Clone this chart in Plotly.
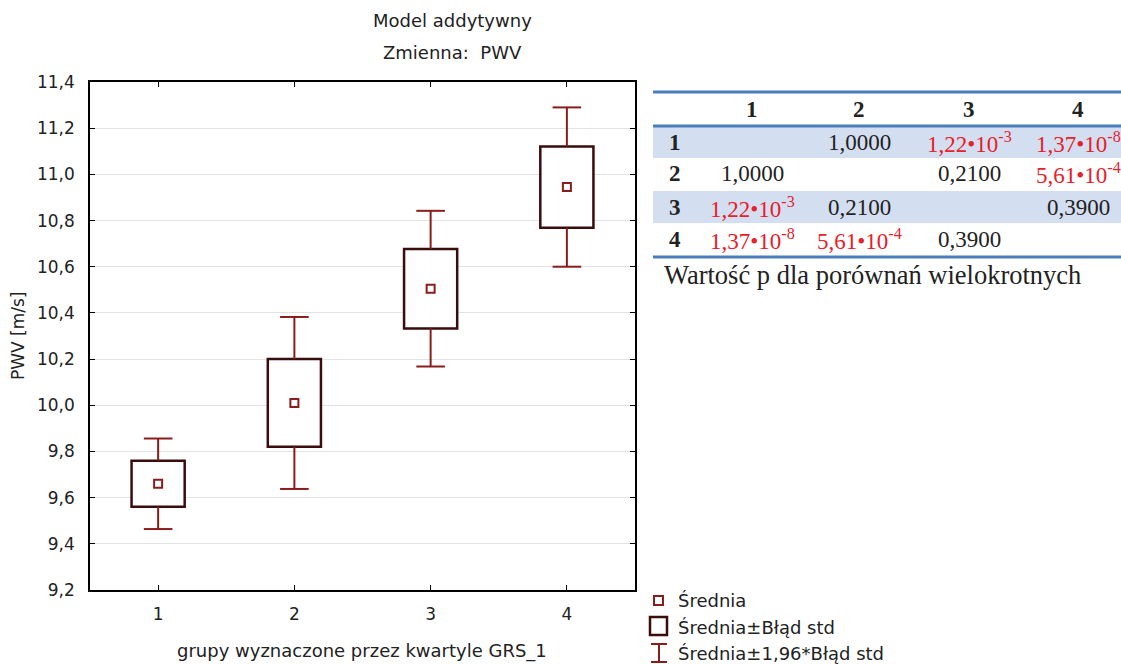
import plotly.graph_objects as go

# ---- data ----
groups = [1, 2, 3, 4]
means = [9.66, 10.01, 10.505, 10.945]
std_err = [0.10, 0.19, 0.172, 0.176]
ci_factor = 1.96

y_ticks = [9.2, 9.4, 9.6, 9.8, 10.0, 10.2, 10.4, 10.6, 10.8, 11.0, 11.2, 11.4]

table_cols = ["1", "2", "3", "4"]
table_rows = ["1", "2", "3", "4"]
p_values = [
    [None, 1.0, 1.22e-3, 1.37e-8],
    [1.0, None, 0.21, 5.61e-4],
    [1.22e-3, 0.21, None, 0.39],
    [1.37e-8, 5.61e-4, 0.39, None],
]
table_caption = "Wartość p dla porównań wielokrotnych"
legend_labels = ["Średnia", "Średnia±Błąd std", "Średnia±1,96*Błąd std"]

# ---- layout helpers ----
W, H = 1121, 664
def px(x):
    return x / W
def py(y):
    return 1 - y / H

BOX_C = "#3a0c0c"
WH_C = "#8b1c1c"
TXT = "#222222"
SANS = "DejaVu Sans"
SERIF = "Liberation Serif"

box_w = 0.39
cap_half = 0.105

fig = go.Figure()

# boxes: mean ± SE
fig.add_trace(go.Bar(
    x=groups,
    y=[2 * s for s in std_err],
    base=[m - s for m, s in zip(means, std_err)],
    width=box_w,
    marker=dict(color="white", line=dict(color=BOX_C, width=2.5)),
    showlegend=False, hoverinfo="skip",
))

# whiskers: mean ± 1.96 SE
wx, wy = [], []
for g, m, s in zip(groups, means, std_err):
    hi, lo = m + ci_factor * s, m - ci_factor * s
    wx += [g, g, None, g - cap_half, g + cap_half, None,
           g, g, None, g - cap_half, g + cap_half, None]
    wy += [m + s, hi, None, hi, hi, None,
           m - s, lo, None, lo, lo, None]
fig.add_trace(go.Scatter(x=wx, y=wy, mode="lines",
                         line=dict(color=WH_C, width=2),
                         showlegend=False, hoverinfo="skip"))

# means
fig.add_trace(go.Scatter(x=groups, y=means, mode="markers",
                         marker=dict(symbol="square-open", size=8, color=WH_C,
                                     line=dict(width=2, color=WH_C)),
                         showlegend=False))

annotations = []
shapes = []

def note(x, y, text, size, family=SANS, color=TXT, xanchor="center", **kw):
    annotations.append(dict(x=px(x), y=py(y), xref="paper", yref="paper",
                            text=text, showarrow=False,
                            xanchor=xanchor, yanchor="middle",
                            font=dict(family=family, size=size, color=color), **kw))

# titles
note(452, 20, "Model addytywny", 18)
note(452, 53, "Zmienna:  PWV", 18)
note(362, 651, "grupy wyznaczone przez kwartyle GRS_1", 18)
note(18, 336, "PWV [m/s]", 17, textangle=-90)

# ---- table ----
BLUE = "#4a7ebb"
BAND = "#d3dff0"
col_x = [752, 859, 969, 1078]
row_label_x = 675
header_y = 109
row_y = [142, 174, 207, 239]
band_half = 16

for i, yy in enumerate(row_y):
    if i % 2 == 0:
        shapes.append(dict(type="rect", xref="paper", yref="paper",
                           x0=px(653), x1=1.0, y0=py(yy - band_half), y1=py(yy + band_half),
                           fillcolor=BAND, line=dict(width=0), layer="below"))
for ly in [92, 126, 257]:
    shapes.append(dict(type="line", xref="paper", yref="paper",
                       x0=px(653), x1=1.0, y0=py(ly), y1=py(ly),
                       line=dict(color=BLUE, width=3)))

def fmt_p(p):
    if p < 0.05:
        mant, exp = f"{p:.2e}".split("e")
        return f"{mant.replace('.', ',')}•10<sup>{int(exp)}</sup>", "#e8202a"
    return f"{p:.4f}".replace(".", ","), TXT

for j, c in enumerate(table_cols):
    note(col_x[j], header_y, f"<b>{c}</b>", 23, family=SERIF)
for i, r in enumerate(table_rows):
    note(row_label_x, row_y[i], f"<b>{r}</b>", 23, family=SERIF)
    for j, p in enumerate(p_values[i]):
        if p is None:
            continue
        txt, col = fmt_p(p)
        note(col_x[j], row_y[i], txt, 23, family=SERIF, color=col)
note(662, 275, table_caption, 26.5, family=SERIF, xanchor="left")

# ---- legend (manual) ----
shapes.append(dict(type="rect", xref="paper", yref="paper",
                   x0=px(654), x1=px(663), y0=py(596), y1=py(605),
                   line=dict(color=WH_C, width=2), fillcolor="white"))
shapes.append(dict(type="rect", xref="paper", yref="paper",
                   x0=px(650), x1=px(667), y0=py(617), y1=py(635),
                   line=dict(color=BOX_C, width=2.5), fillcolor="white"))
for seg in [(659, 644, 659, 662), (651, 644, 667, 644), (651, 662, 667, 662)]:
    shapes.append(dict(type="line", xref="paper", yref="paper",
                       x0=px(seg[0]), y0=py(seg[1]), x1=px(seg[2]), y1=py(seg[3]),
                       line=dict(color=WH_C, width=2)))
for lab, yy in zip(legend_labels, [600, 627, 653]):
    note(676, yy, lab, 18, xanchor="left")

fig.update_layout(
    width=W, height=H,
    margin=dict(l=0, r=0, t=0, b=0),
    paper_bgcolor="white", plot_bgcolor="white",
    separators=",.",
    showlegend=False,
    font=dict(family=SANS, size=17, color=TXT),
    xaxis=dict(domain=[px(90), px(635)], range=[0.5, 4.5],
               tickvals=groups, ticktext=[str(g) for g in groups],
               ticks="inside", ticklen=5, tickcolor="black",
               showline=True, linecolor="black", linewidth=1.5, mirror="ticks",
               showgrid=False, zeroline=False, automargin=False,
               ticklabelstandoff=8,
               tickfont=dict(family=SANS, size=17, color=TXT)),
    yaxis=dict(domain=[py(590), py(82)], range=[9.2, 11.4],
               tickvals=y_ticks, tickformat=".1f",
               ticks="inside", ticklen=5, tickcolor="black",
               showline=True, linecolor="black", linewidth=1.5, mirror="ticks",
               showgrid=True, gridcolor="#e2e2e2", gridwidth=1,
               zeroline=False, automargin=False,
               ticklabelstandoff=10,
               tickfont=dict(family=SANS, size=17, color=TXT)),
    annotations=annotations,
    shapes=shapes,
)

fig.write_html("out.html")
